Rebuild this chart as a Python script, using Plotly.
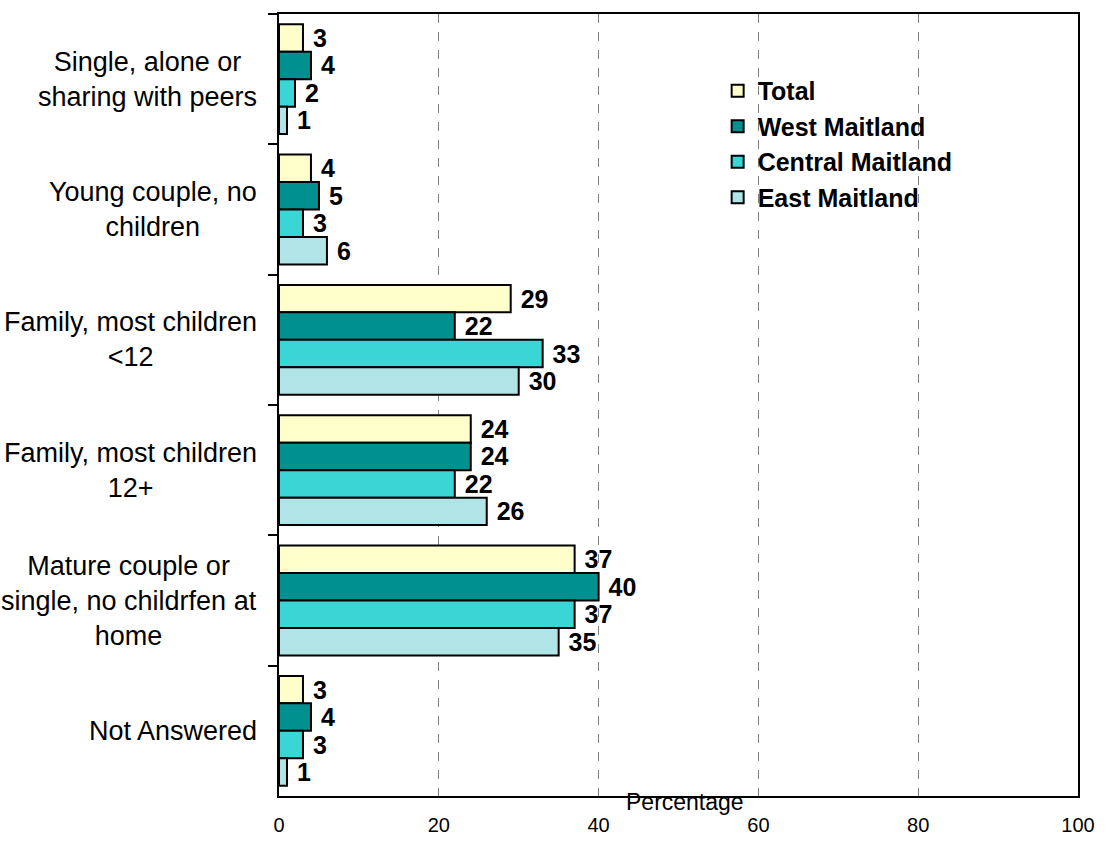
import plotly.graph_objects as go

# Household type categories (top to bottom) and per-area percentages
categories = [
    "Single, alone or<br>sharing with peers",
    "Young couple, no<br>children",
    "Family, most children<br><12",
    "Family, most children<br>12+",
    "Mature couple or<br>single, no childrfen at<br>home",
    "Not Answered",
]
category_keys = ["single", "young", "fam12", "fam12p", "mature", "na"]

series_names = ["Total", "West Maitland", "Central Maitland", "East Maitland"]
total = [3, 4, 29, 24, 37, 3]
west_maitland = [4, 5, 22, 24, 40, 4]
central_maitland = [2, 3, 33, 22, 37, 3]
east_maitland = [1, 6, 30, 26, 35, 1]
series_values = [total, west_maitland, central_maitland, east_maitland]
series_colors = ["#FFFFCC", "#009090", "#3AD6D6", "#B0E4E6"]

x_ticks = [0, 20, 40, 60, 80, 100]

FONT = "Liberation Sans, Arial, sans-serif"

fig = go.Figure()
for name, vals, col in zip(series_names, series_values, series_colors):
    fig.add_trace(go.Bar(
        name=name,
        y=category_keys,
        x=vals,
        orientation="h",
        marker=dict(color=col, line=dict(color="black", width=2)),
        text=vals,
        texttemplate=" %{x}",
        textposition="outside",
        constraintext="none",
        cliponaxis=False,
        textfont=dict(family=FONT, size=25, color="black", weight="bold"),
    ))

# Category labels: right-anchored blocks with centred lines
annotations = []
for key, label in zip(category_keys, categories):
    annotations.append(dict(
        x=0, xref="paper", xshift=-20,
        y=key, yref="y",
        text=label, showarrow=False,
        xanchor="right", yanchor="middle", align="center",
        font=dict(family=FONT, size=27, color="black"),
    ))

annotations.append(dict(
    x=0.508, xref="paper", y=-0.0075, yref="paper",
    text="Percentage", showarrow=False,
    xanchor="center", yanchor="middle",
    font=dict(family=FONT, size=23, color="black"),
))

fig.update_layout(
    width=1107, height=848,
    margin=dict(l=279, r=23, t=12, b=36),
    paper_bgcolor="white", plot_bgcolor="white",
    barmode="group", bargap=0.157, bargroupgap=0,
    showlegend=True,
    legend=dict(
        x=0.549, y=0.931, xanchor="left", yanchor="top",
        bgcolor="rgba(0,0,0,0)",
        font=dict(family=FONT, size=25, color="black", weight="bold"),
        tracegroupgap=0, itemsizing="constant",
    ),
    annotations=annotations,
    xaxis=dict(
        range=[0, 100], tickvals=x_ticks, ticktext=[str(t) for t in x_ticks],
        showgrid=True, gridcolor="#808080", griddash="dash", gridwidth=1,
        showline=True, linecolor="black", linewidth=2, mirror=True,
        ticks="", zeroline=False, ticklabelstandoff=10,
        tickfont=dict(family=FONT, size=20, color="black"),
    ),
    yaxis=dict(
        categoryorder="array", categoryarray=category_keys,
        autorange="reversed",
        showticklabels=False,
        ticks="outside", tickson="boundaries", ticklen=9, tickwidth=2, tickcolor="black",
        showline=True, linecolor="black", linewidth=2, mirror=True,
        showgrid=False, zeroline=False,
    ),
)

fig.write_html("out.html")
